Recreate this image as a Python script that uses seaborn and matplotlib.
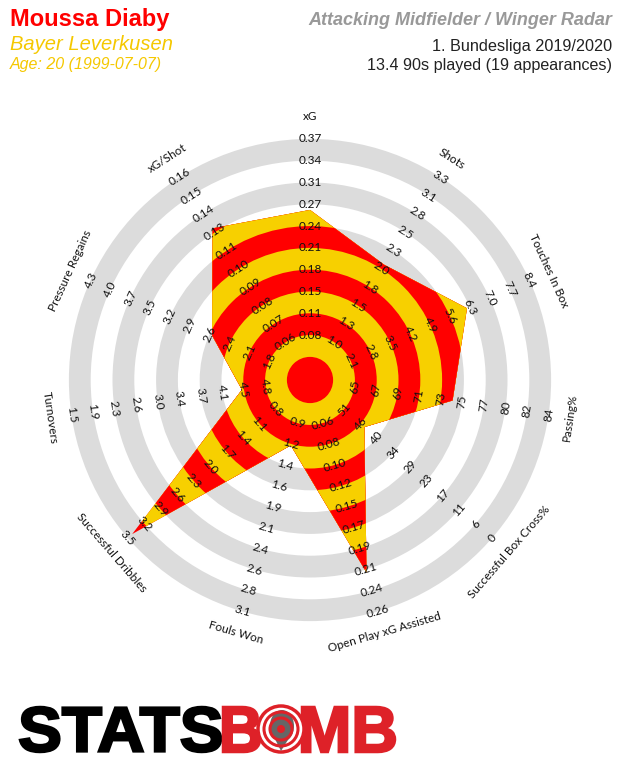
import numpy as np
import matplotlib
matplotlib.use("Agg")
import matplotlib.pyplot as plt
import seaborn as sns
from matplotlib.patches import Circle, Polygon, PathPatch, Ellipse
from matplotlib.textpath import TextPath
from matplotlib.font_manager import FontProperties
from matplotlib.transforms import Affine2D

sns.set_style("white")
plt.rcParams["font.family"] = ["Liberation Sans", "DejaVu Sans"]

# radar data
params = ["xG", "Shots", "Touches In Box", "Passing%", "Successful Box Cross%",
          "Open Play xG Assisted", "Fouls Won", "Successful Dribbles", "Turnovers",
          "Pressure Regains", "xG/Shot"]
values = [0.265, 2.08, 6.2, 74.6, 44.0, 0.219, 1.16, 3.42, 4.40, 2.60, 0.129]

ticks_xg = ["0.08", "0.11", "0.15", "0.18", "0.21", "0.24", "0.27", "0.31", "0.34", "0.37"]
ticks_shots = ["1.0", "1.3", "1.5", "1.8", "2.0", "2.3", "2.5", "2.8", "3.1", "3.3"]
ticks_touches = ["2.1", "2.8", "3.5", "4.2", "4.9", "5.6", "6.3", "7.0", "7.7", "8.4"]
ticks_passing = ["65", "67", "69", "71", "73", "75", "77", "80", "82", "84"]
ticks_cross = ["51", "46", "40", "34", "29", "23", "17", "11", "6", "0"]
ticks_xa = ["0.06", "0.08", "0.10", "0.12", "0.15", "0.17", "0.19", "0.21", "0.24", "0.26"]
ticks_fouls = ["0.9", "1.2", "1.4", "1.6", "1.9", "2.1", "2.4", "2.6", "2.8", "3.1"]
ticks_dribbles = ["0.8", "1.1", "1.4", "1.7", "2.0", "2.3", "2.6", "2.9", "3.2", "3.5"]
ticks_turnovers = ["4.8", "4.5", "4.1", "3.7", "3.4", "3.0", "2.6", "2.3", "1.9", "1.5"]
ticks_pressure = ["1.8", "2.1", "2.4", "2.6", "2.9", "3.2", "3.5", "3.7", "4.0", "4.3"]
ticks_xgshot = ["0.06", "0.07", "0.08", "0.09", "0.10", "0.11", "0.13", "0.14", "0.15", "0.16"]
tick_labels = [ticks_xg, ticks_shots, ticks_touches, ticks_passing, ticks_cross, ticks_xa,
               ticks_fouls, ticks_dribbles, ticks_turnovers, ticks_pressure, ticks_xgshot]

RED = "#ff0000"
YELLOW = "#f7d000"
GREY = "#dcdcdc"

R0 = 1.06      # centre circle radius (ring units)
N_RINGS = 10
PX = 21.8      # pixels per ring


def text_rotation(theta):
    rot = (theta - 90 + 180) % 360 - 180
    if rot < -90:
        rot += 180
    elif rot > 90:
        rot -= 180
    return rot


fig = plt.figure(figsize=(6.2, 7.8), dpi=100)
ax = fig.add_axes([10 / 620, 100 / 780, 600 / 620, 600 / 780])
lim = 300 / PX
ax.set_xlim(-lim, lim)
ax.set_ylim(-lim, lim)
ax.axis("off")

# background rings
for k in range(N_RINGS, 0, -1):
    ax.add_patch(Circle((0, 0), R0 + k, color=GREY if k % 2 == 0 else "white", lw=0, zorder=1))
ax.add_patch(Circle((0, 0), R0, color="white", lw=0, zorder=1))

# player polygon
n = len(params)
thetas = [90 - i * 360 / n for i in range(n)]
pts = []
for v, th, tl in zip(values, thetas, tick_labels):
    lo, hi = float(tl[0]), float(tl[-1])
    r = R0 + 1 + (N_RINGS - 1) * (v - lo) / (hi - lo)
    pts.append((r * np.cos(np.radians(th)), r * np.sin(np.radians(th))))
poly = Polygon(pts, closed=True, fc="none", ec="none", zorder=2)
ax.add_patch(poly)

for k in range(N_RINGS, 0, -1):
    c = Circle((0, 0), R0 + k, color=YELLOW if k % 2 == 1 else RED, lw=0, zorder=2)
    ax.add_patch(c)
    c.set_clip_path(poly)
c = Circle((0, 0), R0, color=RED, lw=0, zorder=2)
ax.add_patch(c)
c.set_clip_path(poly)

# range labels and parameter names
for name, th, tl in zip(params, thetas, tick_labels):
    rot = text_rotation(th)
    ct, st = np.cos(np.radians(th)), np.sin(np.radians(th))
    for k, lab in enumerate(tl, start=1):
        r = R0 + k
        ax.text(r * ct, r * st, lab, rotation=rot, rotation_mode="anchor",
                ha="center", va="center", fontsize=8.5, family=["Lato", "DejaVu Sans"],
                color="#111111", zorder=3)
    r = 263 / PX
    ax.text(r * ct, r * st, name, rotation=rot, rotation_mode="anchor",
            ha="center", va="center", fontsize=8.5, family=["Lato", "DejaVu Sans"],
            color="#111111", zorder=3)

# header
def fy(py):
    return 1 - py / 780


fig.text(10 / 620, fy(26), "Moussa Diaby", color=RED, fontsize=17, fontweight="bold", va="baseline")
fig.text(10 / 620, fy(50), "Bayer Leverkusen", color="#f5c800", fontsize=14.5, style="italic", va="baseline")
fig.text(10 / 620, fy(69), "Age: 20 (1999-07-07)", color="#f5c800", fontsize=11.5, style="italic", va="baseline")
fig.text(612 / 620, fy(25), "Attacking Midfielder / Winger Radar", color="#999999", fontsize=13,
         fontweight="bold", style="italic", ha="right", va="baseline")
fig.text(612 / 620, fy(51), "1. Bundesliga 2019/2020", color="#222222", fontsize=11.7, ha="right", va="baseline")
fig.text(612 / 620, fy(70), "13.4 90s played (19 appearances)", color="#222222", fontsize=11.6,
         ha="right", va="baseline")

# logo
lax = fig.add_axes([0, 0, 1, 1])
lax.set_xlim(0, 620)
lax.set_ylim(0, 780)
lax.axis("off")
lax.patch.set_alpha(0)
logo_prop = FontProperties(family="Liberation Sans", weight="bold")
LOGO_RED = "#de2128"


def logo_text(s, x0, x1, y0, y1, color):
    tp = TextPath((0, 0), s, size=100, prop=logo_prop)
    bb = tp.get_extents()
    tr = Affine2D().translate(-bb.x0, -bb.y0).scale((x1 - x0) / bb.width, (y1 - y0) / bb.height).translate(x0, y0)
    lax.add_patch(PathPatch(tr.transform_path(tp), fc=color, ec=color, lw=1.8))


logo_text("STATS", 20, 221, 780 - 752, 780 - 707, "black")
logo_text("B", 223, 260, 780 - 752, 780 - 707, LOGO_RED)
logo_text("MB", 302, 395, 780 - 752, 780 - 707, LOGO_RED)
cx, cy = 281, 780 - 729
lax.add_patch(Circle((cx, cy), 23, fc="white", ec=LOGO_RED, lw=2.5))
lax.add_patch(Ellipse((cx + 1, cy + 3), 24, 32, fc="#666666", ec="none"))
lax.add_patch(Polygon([(cx - 8, cy - 6), (cx + 10, cy - 6), (cx, cy - 22)], fc="#666666", ec="none"))
for rr in (17, 11):
    lax.add_patch(Circle((cx, cy), rr, fc="none", ec=LOGO_RED, lw=2.2))
lax.add_patch(Circle((cx, cy), 4, fc=LOGO_RED, ec="none"))

fig.savefig("out.png", dpi=100)
